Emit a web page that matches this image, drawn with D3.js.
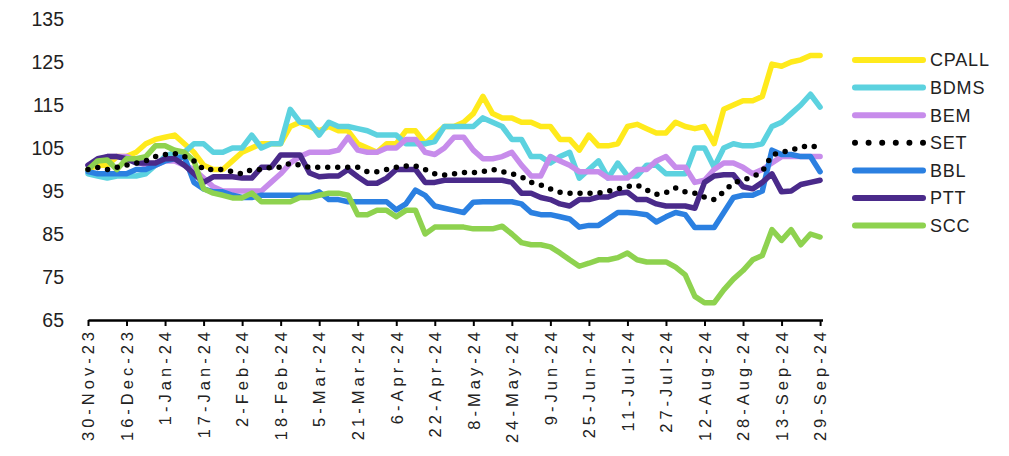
<!DOCTYPE html>
<html>
<head>
<meta charset="utf-8">
<script src="https://cdn.jsdelivr.net/npm/d3@7"></script>
<style>
  html, body { margin: 0; padding: 0; background: #fff; }
  svg { display: block; }
</style>
</head>
<body>
<svg id="chart" width="1009" height="456"></svg>
<script>
// ---- data (values every 4 days from 30-Nov-23) ----
const seriesNames = ["CPALL", "BDMS", "BEM", "SET", "BBL", "PTT", "SCC"];
const startDate = "2023-11-30";
const stepDays = 4;

const CPALL = [100,101,101,103,103,104,106,107,107.5,108,106,104,101,100,100,102,104,105,106,106,106,110,111,110,109,110,109,109,106,105,104,106,106,109,109,106,108,110,110,111,113,117,113,112,112,111,111,110,110,107,107,104.5,108,105.5,105.5,106,110,110.5,109.5,108.5,108.5,111,110,109.5,110,106,114,115,116,116,117,124.5,124,125,125.5,126.5,126.5];
const BDMS = [99,98.5,98,98.5,98.5,98.5,99,101,103,104,104,106,106,104,104,105,105,108,105,106,106,114,111,111,108,111,110,110,109.5,109,108,108,108,106,106,106,106.5,110,110,110,110,112,111,110,107,107,103,103,101.5,103,104,98,100,102,98,101.5,98.5,98.5,101,101,99,99,99,105,105,100.5,105,106,105.5,105.5,106,110,111,113,115,117.5,114.5];
const BEM = [101,102,103,103,103,102,101,101,102,102,101,100,98,96,95,95,95,95,95,97,99,101.5,103,104,104,104,104.5,107.5,104.5,104,104,105,105,107,107,104,103.5,105,107.5,107.5,104.5,102.5,102.5,103,104,101,98.5,98.5,103,102,101,99.5,99.5,99.5,98,98,98,100,100,102,103,100.5,100.5,97,97.5,100,101.5,101.5,100.5,99,100,101.5,103,103,103,103,103];
const SET = [100,100.5,100,100.5,101,101.5,102,103,103.5,103.7,103,102,100,100,100,99.5,99,100,100,100.5,100.5,101.5,101,100.5,100.5,100.5,100.5,100.5,100.5,99.5,99.5,100,100.5,100.8,100.8,100,99,98.7,99,99.3,99.3,99.5,100,99.5,99,98.3,97,96.4,95.5,94.7,94.5,94.5,94.5,94.5,95,95.5,96,96.4,95.2,94.2,94.6,95.7,94.8,94.5,93.6,93,94.8,96.9,97.5,98.3,99.5,103.4,104,104.5,105.2,105.6,104.9];
const BBL = [99.5,99,99,99,99,100,100,101,102,102.5,103,97,95.5,94.8,94.8,94,93.5,93.5,94,94,94,94,94,94,94.8,93,93,92.5,92.5,92.5,92.5,92.5,90.6,92,95.2,94,91.5,91,90.5,90,92.4,92.5,92.5,92.5,92.5,92,90,89.5,89.5,89,88.5,86.6,87,87,88.5,90,90,89.8,89.5,87.8,89,90,89.5,86.5,86.5,86.5,90,93.5,94,94,95,104.5,103.5,103.5,103,103,99.5];
const PTT = [101,102.5,103,103,102.5,101.5,101.5,101.5,102.5,102.5,101,99,97,98.3,98.3,98.3,98,98,100.5,100.5,103.4,103.4,103.4,99.2,98.3,98.5,98.5,100,98.3,96.8,96.8,98,100,100,100,97,97,97.5,97.5,97.5,97.5,97.5,97.5,97.5,97,94.5,94.5,93.5,93,92,91.5,93,93,93.6,93.6,94.5,94.7,93,93,92,91.5,91.5,91.5,91,97,98.5,98.8,98.8,96,95.5,97,99,94.8,95,96.5,97,97.5];
const SCC = [100,102,102.2,100,102.5,102.5,103,105.5,105.5,104.5,104,102,95.5,94.5,94,93.4,93.4,94.5,92.5,92.5,92.5,92.5,93.5,93.5,94,94.5,94.5,94,89.5,89.5,90.5,90.5,89,90.5,90.5,85,86.6,86.6,86.6,86.6,86.2,86.2,86.2,86.8,85,83,82.5,82.5,82,80.6,79,77.5,78.2,79,79,79.5,80.6,79,78.5,78.5,78.5,77.3,75.5,70.5,69,69,72,74.5,76.5,79,80,86,83.5,86,82.5,85,84.3];

const yTicks = [65, 75, 85, 95, 105, 115, 125, 135];
const xTickLabels = ["30-Nov-23","16-Dec-23","1-Jan-24","17-Jan-24","2-Feb-24","18-Feb-24","5-Mar-24","21-Mar-24","6-Apr-24","22-Apr-24","8-May-24","24-May-24","9-Jun-24","25-Jun-24","11-Jul-24","27-Jul-24","12-Aug-24","28-Aug-24","13-Sep-24","29-Sep-24"];

const colors = {
  CPALL: "#FFEA1C",
  BDMS: "#5CD2DF",
  BEM: "#C78CEB",
  SET: "#000000",
  BBL: "#2B80E1",
  PTT: "#4A2A8A",
  SCC: "#8ED24F"
};
const valuesBy = {CPALL, BDMS, BEM, SET, BBL, PTT, SCC};

// ---- layout ----
const svg = d3.select("#chart");
const parse = d3.timeParse("%Y-%m-%d");
const parseTick = d3.timeParse("%d-%b-%y");
const t0 = parse(startDate);
const dates = CPALL.map((_, i) => d3.timeDay.offset(t0, i * stepDays));
const tickDates = xTickLabels.map(s => parseTick(s));

const x = d3.scaleTime()
  .domain([t0, parse("2024-09-30")])
  .range([88, 822.5]);
const y = d3.scaleLinear().domain([65, 135]).range([320, 19]);

// y axis labels
const yAxis = d3.axisLeft(y).tickValues(yTicks).tickSize(0).tickPadding(0);
const gy = svg.append("g").attr("transform", "translate(64,0)").call(yAxis);
gy.select(".domain").remove();
gy.selectAll("text")
  .attr("font-family", "'Liberation Sans Narrow','Arial Narrow','Liberation Sans',Arial,sans-serif")
  .attr("font-size", 19.5)
  .attr("fill", "#222");

// lines
const line = d3.line()
  .x((d, i) => x(dates[i]))
  .y(d => y(d));

const drawOrder = ["CPALL", "BDMS", "BEM", "BBL", "PTT", "SCC"];
drawOrder.forEach(name => {
  svg.append("path")
    .datum(valuesBy[name])
    .attr("fill", "none")
    .attr("stroke", colors[name])
    .attr("stroke-width", 5.5)
    .attr("stroke-linejoin", "round")
    .attr("stroke-linecap", "round")
    .attr("d", line);
});
svg.append("path")
  .datum(SET)
  .attr("fill", "none")
  .attr("stroke", colors.SET)
  .attr("stroke-width", 5.5)
  .attr("stroke-linecap", "round")
  .attr("stroke-dasharray", "0 10")
  .attr("d", line);

// x axis
const xAxis = d3.axisBottom(x)
  .tickValues(tickDates)
  .tickFormat((d, i) => xTickLabels[i])
  .tickSizeInner(6)
  .tickSizeOuter(0)
  .tickPadding(0);
const gx = svg.append("g").attr("transform", "translate(0,320)").call(xAxis);
gx.select(".domain").attr("stroke", "#000").attr("stroke-width", 2.5);
gx.selectAll(".tick line").attr("stroke", "#000").attr("stroke-width", 2);
gx.selectAll(".tick text")
  .attr("font-family", "'Liberation Sans',Arial,sans-serif")
  .attr("font-size", 16.5)
  .attr("letter-spacing", "4px")
  .attr("fill", "#222")
  .attr("text-anchor", "end")
  .attr("dy", "0.35em")
  .attr("transform", "translate(0,8) rotate(-90)")
  .attr("x", 0)
  .attr("y", 0);

// legend
const legendOrder = ["CPALL", "BDMS", "BEM", "SET", "BBL", "PTT", "SCC"];
const lg = svg.append("g");
legendOrder.forEach((name, i) => {
  const cy = 60 + i * 27.6;
  const l = lg.append("line")
    .attr("x1", 855).attr("x2", 923)
    .attr("y1", cy).attr("y2", cy)
    .attr("stroke", colors[name])
    .attr("stroke-width", 6)
    .attr("stroke-linecap", "round");
  if (name === "SET") l.attr("stroke-dasharray", "0 13.6").attr("x1", 855).attr("x2", 924);
  lg.append("text")
    .attr("x", 930).attr("y", cy)
    .attr("dy", "0.35em")
    .attr("font-family", "'Liberation Sans',Arial,sans-serif")
    .attr("font-size", 18)
    .attr("letter-spacing", "0.8px")
    .attr("fill", "#222")
    .text(name);
});
</script>
</body>
</html>
